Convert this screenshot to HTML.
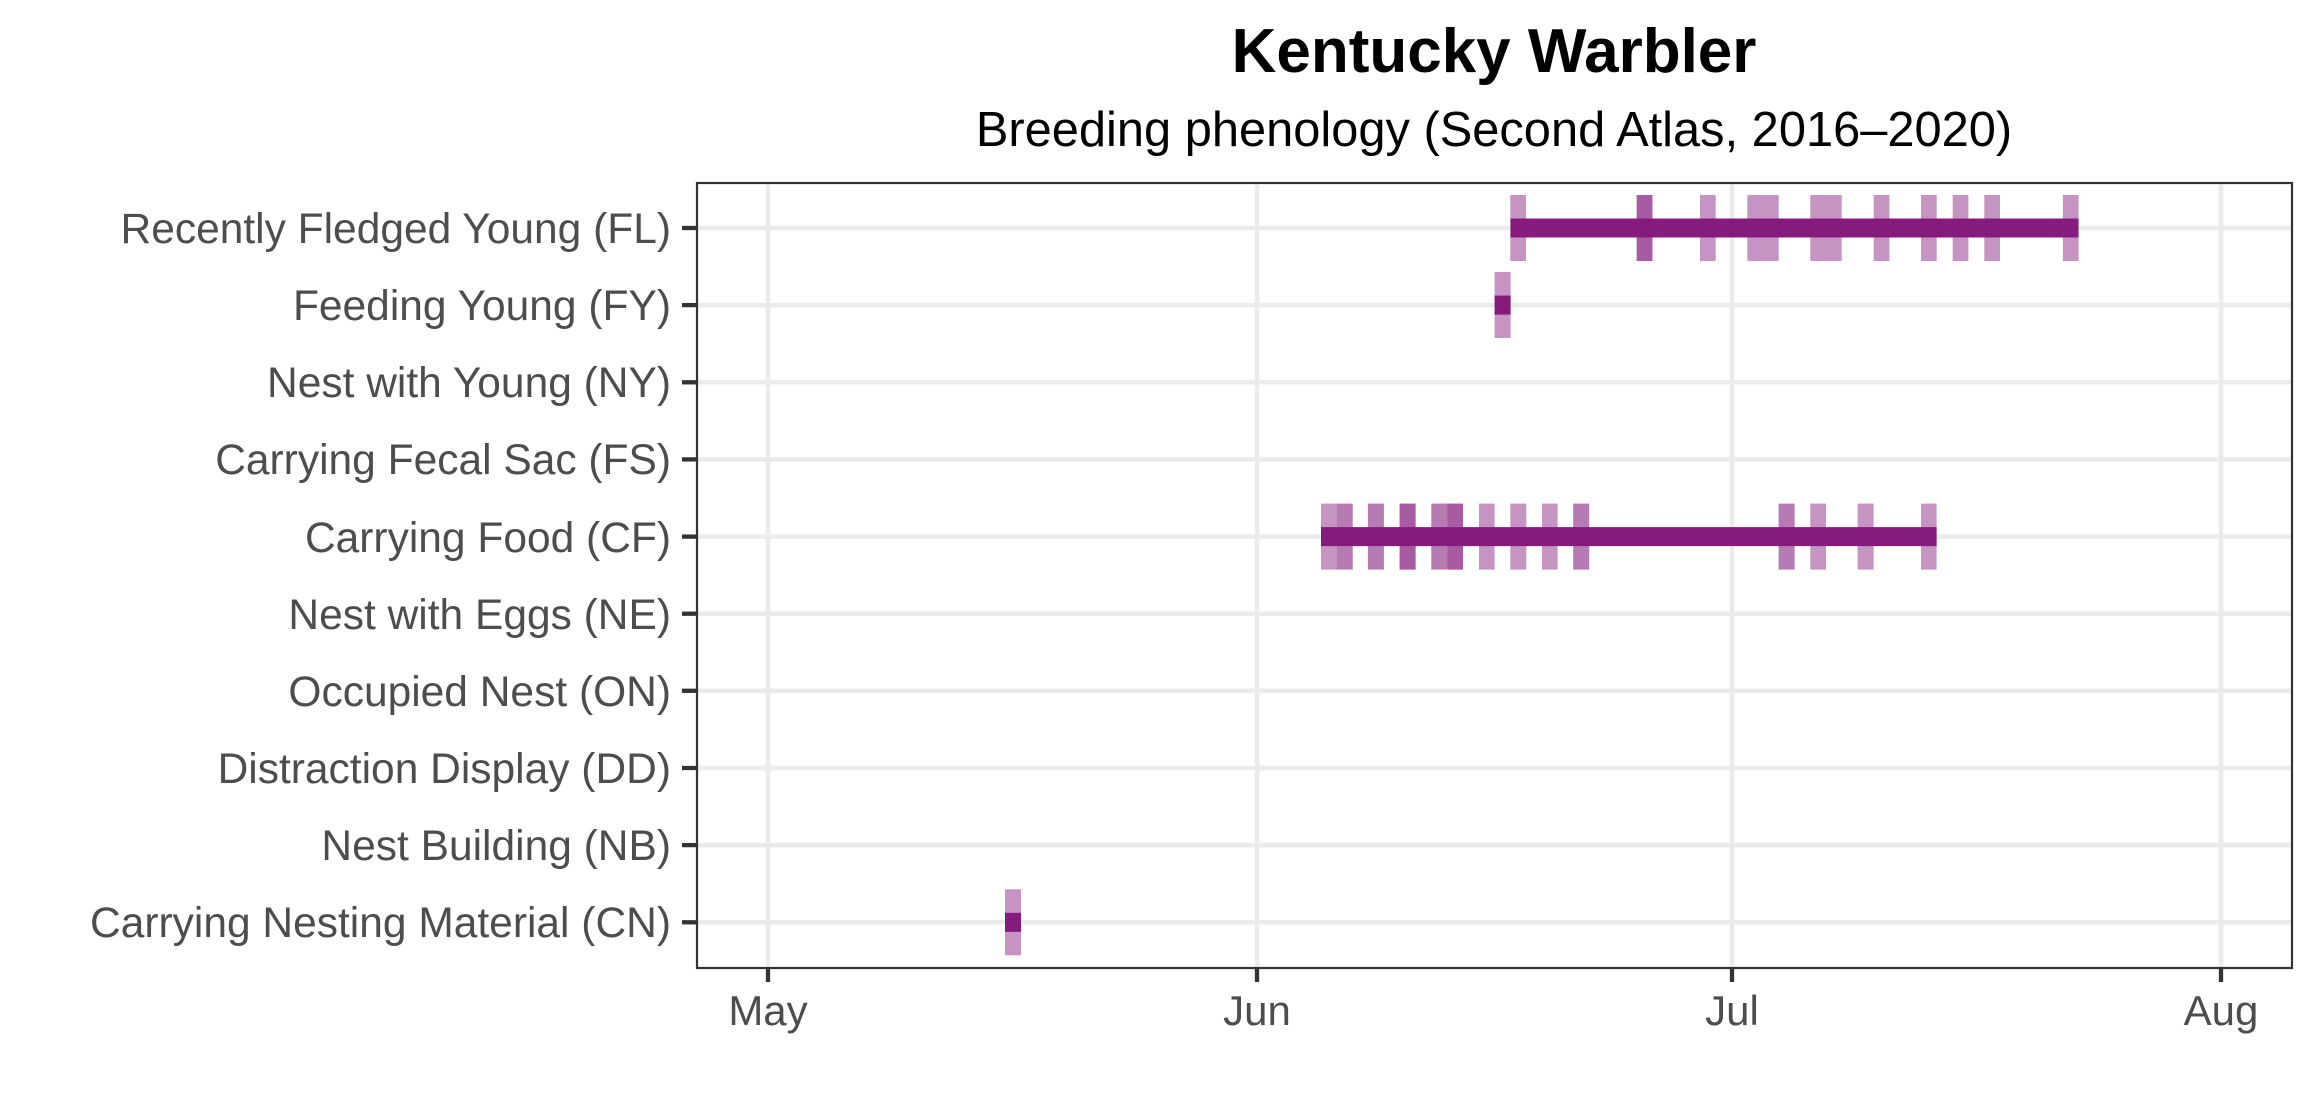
<!DOCTYPE html>
<html><head><meta charset="utf-8"><style>
html,body{margin:0;padding:0;background:#fff;}
svg{display:block;}
text{font-family:"Liberation Sans",Arial,sans-serif;}
</style></head><body>
<svg width="2320" height="1120" viewBox="0 0 2320 1120" xmlns="http://www.w3.org/2000/svg">
<rect width="2320" height="1120" fill="#fff"/>
<text x="1494" y="72" font-size="62" font-weight="bold" text-anchor="middle" fill="#000">Kentucky Warbler</text>
<text x="1494" y="146" font-size="48.8" text-anchor="middle" fill="#000">Breeding phenology (Second Atlas, 2016–2020)</text>
<g stroke="#ebebeb" stroke-width="4.5">
<line x1="697" x2="2292" y1="228" y2="228"/>
<line x1="697" x2="2292" y1="305.1" y2="305.1"/>
<line x1="697" x2="2292" y1="382.3" y2="382.3"/>
<line x1="697" x2="2292" y1="459.4" y2="459.4"/>
<line x1="697" x2="2292" y1="536.6" y2="536.6"/>
<line x1="697" x2="2292" y1="613.7" y2="613.7"/>
<line x1="697" x2="2292" y1="690.8" y2="690.8"/>
<line x1="697" x2="2292" y1="768" y2="768"/>
<line x1="697" x2="2292" y1="845.1" y2="845.1"/>
<line x1="697" x2="2292" y1="922.3" y2="922.3"/>
<line x1="768" x2="768" y1="183" y2="968"/>
<line x1="1257" x2="1257" y1="183" y2="968"/>
<line x1="1732" x2="1732" y1="183" y2="968"/>
<line x1="2221" x2="2221" y1="183" y2="968"/>
</g>
<g fill="#841b7d" fill-opacity="0.47">
<rect x="1510.3" y="195" width="15.7" height="66"/>
<rect x="1636.7" y="195" width="15.7" height="66"/>
<rect x="1636.7" y="195" width="15.7" height="66"/>
<rect x="1700" y="195" width="15.7" height="66"/>
<rect x="1747.3" y="195" width="31.4" height="66"/>
<rect x="1810.3" y="195" width="31.4" height="66"/>
<rect x="1873.7" y="195" width="15.7" height="66"/>
<rect x="1921" y="195" width="15.7" height="66"/>
<rect x="1952.7" y="195" width="15.7" height="66"/>
<rect x="1984.3" y="195" width="15.7" height="66"/>
<rect x="2062.9" y="195" width="15.7" height="66"/>
<rect x="1494.6" y="272" width="16" height="66"/>
<rect x="1005" y="889.3" width="16" height="66"/>
<rect x="1321" y="503.6" width="16" height="66"/>
<rect x="1337" y="503.6" width="15.7" height="66"/>
<rect x="1337" y="503.6" width="15.7" height="66" fill-opacity="0.2"/>
<rect x="1367.9" y="503.6" width="16" height="66"/>
<rect x="1367.9" y="503.6" width="16" height="66" fill-opacity="0.2"/>
<rect x="1399.6" y="503.6" width="16" height="66"/>
<rect x="1399.6" y="503.6" width="16" height="66"/>
<rect x="1431.3" y="503.6" width="16" height="66"/>
<rect x="1431.3" y="503.6" width="16" height="66" fill-opacity="0.2"/>
<rect x="1447.3" y="503.6" width="15.7" height="66"/>
<rect x="1447.3" y="503.6" width="15.7" height="66"/>
<rect x="1479" y="503.6" width="15.6" height="66"/>
<rect x="1510.3" y="503.6" width="16" height="66"/>
<rect x="1542" y="503.6" width="15.6" height="66"/>
<rect x="1573.2" y="503.6" width="16" height="66"/>
<rect x="1573.2" y="503.6" width="16" height="66" fill-opacity="0.2"/>
<rect x="1778.6" y="503.6" width="16" height="66"/>
<rect x="1778.6" y="503.6" width="16" height="66" fill-opacity="0.2"/>
<rect x="1810.3" y="503.6" width="15.7" height="66"/>
<rect x="1857.6" y="503.6" width="16" height="66"/>
<rect x="1921" y="503.6" width="15.6" height="66"/>
</g>
<g fill="#841b7d">
<rect x="1510.5" y="218.5" width="568" height="19"/>
<rect x="1494.6" y="295.6" width="16" height="19"/>
<rect x="1005" y="912.8" width="16" height="19"/>
<rect x="1321" y="527.1" width="615.6" height="19"/>
</g>
<rect x="697" y="183" width="1595" height="785" fill="none" stroke="#333" stroke-width="2.2"/>
<g stroke="#333" stroke-width="4.3">
<line x1="682" x2="697" y1="228" y2="228"/>
<line x1="682" x2="697" y1="305.1" y2="305.1"/>
<line x1="682" x2="697" y1="382.3" y2="382.3"/>
<line x1="682" x2="697" y1="459.4" y2="459.4"/>
<line x1="682" x2="697" y1="536.6" y2="536.6"/>
<line x1="682" x2="697" y1="613.7" y2="613.7"/>
<line x1="682" x2="697" y1="690.8" y2="690.8"/>
<line x1="682" x2="697" y1="768" y2="768"/>
<line x1="682" x2="697" y1="845.1" y2="845.1"/>
<line x1="682" x2="697" y1="922.3" y2="922.3"/>
<line x1="768" x2="768" y1="968" y2="982"/>
<line x1="1257" x2="1257" y1="968" y2="982"/>
<line x1="1732" x2="1732" y1="968" y2="982"/>
<line x1="2221" x2="2221" y1="968" y2="982"/>
</g>
<g font-size="42.5" fill="#4d4d4d" text-anchor="end">
<text x="671" y="243">Recently Fledged Young (FL)</text>
<text x="671" y="320">Feeding Young (FY)</text>
<text x="671" y="397">Nest with Young (NY)</text>
<text x="671" y="474">Carrying Fecal Sac (FS)</text>
<text x="671" y="552">Carrying Food (CF)</text>
<text x="671" y="629">Nest with Eggs (NE)</text>
<text x="671" y="706">Occupied Nest (ON)</text>
<text x="671" y="783">Distraction Display (DD)</text>
<text x="671" y="860">Nest Building (NB)</text>
<text x="671" y="937">Carrying Nesting Material (CN)</text>
</g>
<g font-size="42" fill="#4d4d4d" text-anchor="middle">
<text x="768" y="1025">May</text>
<text x="1257" y="1025">Jun</text>
<text x="1732" y="1025">Jul</text>
<text x="2221" y="1025">Aug</text>
</g>
</svg>
</body></html>
